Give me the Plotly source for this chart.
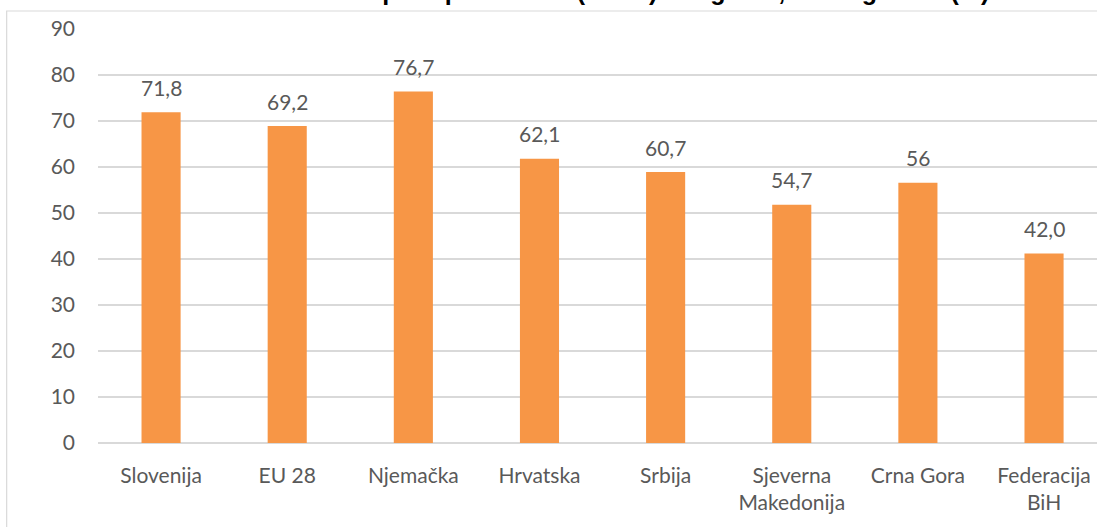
import plotly.graph_objects as go

categories = ["Slovenija", "EU 28", "Njemačka", "Hrvatska", "Srbija",
              "Sjeverna<br>Makedonija", "Crna Gora", "Federacija<br>BiH"]
bar_values = [71.9, 68.9, 76.4, 61.8, 58.9, 51.8, 56.6, 41.2]
label_texts = ["71,8", "69,2", "76,7", "62,1", "60,7", "54,7", "56", "42,0"]
y_ticks = [0, 10, 20, 30, 40, 50, 60, 70, 80, 90]
title_text = "Grafikon: Stopa zaposlenosti (15-64) u regionu, 2019. godina (%)"

W, H = 1097, 527
L, T, B = 98.3, 29, 83.5
grey = "#595959"
grid = "#d9d9d9"
font_family = "Lato, 'Open Sans', sans-serif"
FS = 21

plot_w = W - L
plot_h = H - T - B


def py_to_paper(py):
    return (H - B - py) / plot_h


def px_to_paper(px):
    return (px - L) / plot_w


fig = go.Figure()
fig.add_trace(go.Bar(
    x=categories, y=bar_values, width=0.31,
    marker=dict(color="#F79646", line=dict(width=0)),
    hoverinfo="skip",
))

for c, v, t in zip(categories, bar_values, label_texts):
    fig.add_annotation(x=c, y=v, text=t, showarrow=False, xref="x", yref="y",
                       yanchor="middle", yshift=25,
                       font=dict(family=font_family, size=FS, color=grey))

# chart title (cut off at the top edge, as in the reference)
fig.add_annotation(x=px_to_paper(607), y=py_to_paper(-9.5), xref="paper", yref="paper",
                   text="<b>" + title_text + "</b>", showarrow=False,
                   xanchor="center", yanchor="middle",
                   font=dict(family="Liberation Sans, Arial, sans-serif", size=25, color="black"))

fig.add_shape(type="rect", xref="paper", yref="paper",
              x0=px_to_paper(7), x1=1.05, y0=-0.4, y1=py_to_paper(11),
              line=dict(color=grid, width=1.2), fillcolor="rgba(0,0,0,0)", layer="below")

fig.update_layout(
    width=W, height=H,
    margin=dict(l=L, r=0, t=T, b=B, pad=0),
    paper_bgcolor="white", plot_bgcolor="white",
    showlegend=False,
    font=dict(family=font_family, size=FS, color=grey),
)
fig.update_xaxes(range=[-0.5, -0.5 + plot_w / 126.1], showgrid=False, showline=False,
                 zeroline=False, ticks="", ticklabelstandoff=18,
                 tickfont=dict(family=font_family, size=FS, color=grey), fixedrange=True)
fig.update_yaxes(range=[0, 90], tickvals=y_ticks, showgrid=True, gridcolor=grid, gridwidth=1.5,
                 zeroline=True, zerolinecolor=grid, zerolinewidth=1.5, showline=False,
                 ticks="", ticklabelstandoff=22,
                 tickfont=dict(family=font_family, size=FS, color=grey), fixedrange=True)

fig.write_html("out.html", config={"displayModeBar": False},
               post_script="document.body.style.margin='0';document.body.style.overflow='hidden';")
